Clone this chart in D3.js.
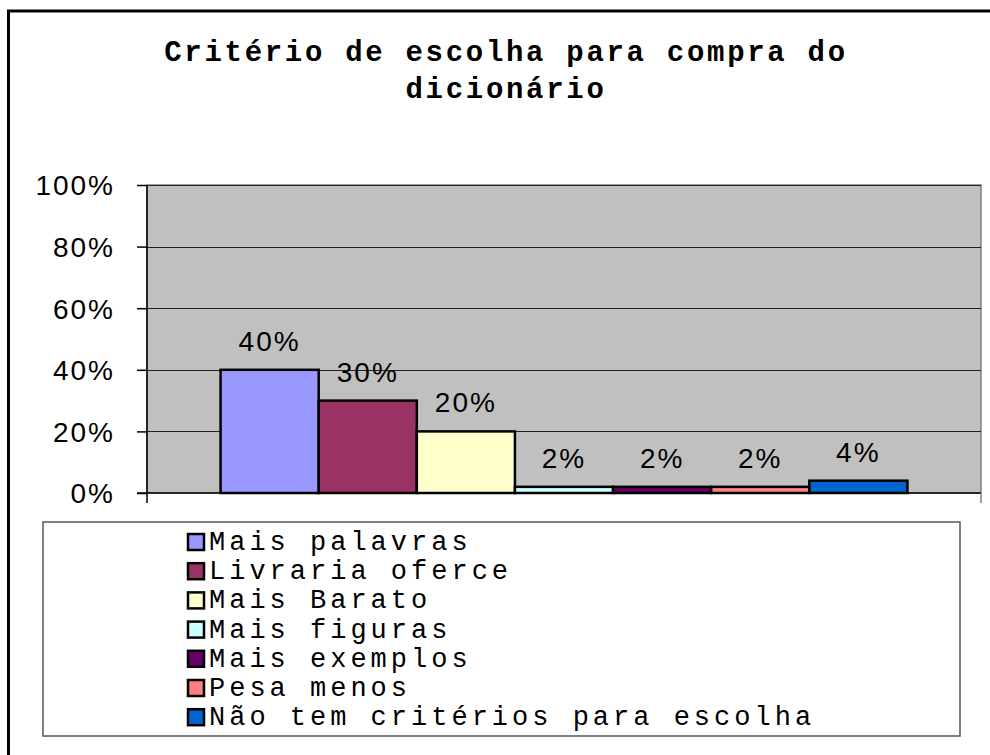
<!DOCTYPE html>
<html>
<head>
    <meta charset="utf-8" />
    <title>Critério de escolha para compra do dicionário</title>
    <style>
        body {
            margin: 0;
            background: #fff;
        }

        .title {
            font-family: "Liberation Mono", "Courier New", monospace;
            font-weight: bold;
            font-size: 29px;
            letter-spacing: 2.7px;
            text-anchor: middle;
        }

        .tick-label, .bar-label {
            font-family: "Liberation Sans", Arial, sans-serif;
            font-size: 28px;
            letter-spacing: 2px;
        }

        .legend-label {
            font-family: "Liberation Mono", "Courier New", monospace;
            font-size: 27px;
            letter-spacing: 4px;
        }
    </style>
</head>
<body>
    <script src="https://d3js.org/d3.v7.min.js"></script>
    <script>
        // dados
        let categories = ['Mais palavras', 'Livraria oferce', 'Mais Barato', 'Mais figuras',
                          'Mais exemplos', 'Pesa menos', 'Não tem critérios para escolha']
        let values = [40, 30, 20, 2, 2, 2, 4]
        let colors = ['#9999FF', '#993366', '#FFFFCC', '#CCFFFF', '#660066', '#FF8080', '#0066CC']
        let yTicks = [0, 20, 40, 60, 80, 100]
        let titleLines = ['Critério de escolha para compra do', 'dicionário']

        let width = 990,
            height = 755

        let plot = { left: 147, right: 981, top: 185, bottom: 493 }

        let svg = d3.select('body')
                    .append('svg')
                    .attr('width', width)
                    .attr('height', height)

        // moldura externa
        svg.append('rect')
            .attr('x', 8.5)
            .attr('y', 11)
            .attr('width', 1000)
            .attr('height', 800)
            .attr('fill', 'none')
            .attr('stroke', '#000')
            .attr('stroke-width', 3)

        // título
        svg.append('g')
            .selectAll('text')
            .data(titleLines)
            .enter()
                .append('text')
                .classed('title', true)
                .attr('x', 506)
                .attr('y', function (d, i) { return 61 + i * 37 })
                .text(function (d) { return d })

        let x = d3.scaleBand()
                    .domain(categories)
                    .range([plot.left, plot.right])
                    .paddingInner(0)
                    .paddingOuter(0.75)

        let y = d3.scaleLinear()
                    .domain([0, 100])
                    .range([plot.bottom, plot.top])

        // área de plotagem
        svg.append('rect')
            .attr('x', plot.left)
            .attr('y', plot.top)
            .attr('width', plot.right - plot.left)
            .attr('height', plot.bottom - plot.top)
            .attr('fill', '#C0C0C0')
            .attr('stroke', '#808080')
            .attr('stroke-width', 1.5)

        // linhas de grade
        svg.append('g')
            .selectAll('line')
            .data(yTicks.filter(function (d) { return d > 0 }))
            .enter()
                .append('line')
                .attr('x1', plot.left)
                .attr('x2', plot.right)
                .attr('y1', function (d) { return Math.round(y(d)) + 0.5 })
                .attr('y2', function (d) { return Math.round(y(d)) + 0.5 })
                .attr('stroke', '#222')
                .attr('stroke-width', 1)

        // eixo Y
        let yAxis = svg.append('g')
                        .attr('transform', `translate(${plot.left}, 0)`)
                        .call(d3.axisLeft(y)
                                .tickValues(yTicks)
                                .tickFormat(function (d) { return d + '%' })
                                .tickSize(10)
                                .tickPadding(22))

        yAxis.select('.domain').attr('stroke', '#000').attr('stroke-width', 1.5)
            .attr('d', `M0,${plot.top}V${plot.bottom + 10}`)
        yAxis.selectAll('.tick line').attr('stroke', '#000').attr('stroke-width', 1.5)
        yAxis.selectAll('.tick text')
            .attr('class', 'tick-label')
            .attr('fill', '#000')
            .attr('dy', '0.35em')

        // barras
        svg.append('g')
            .selectAll('rect')
            .data(values)
            .enter()
                .append('rect')
                .attr('x', function (d, i) { return x(categories[i]) })
                .attr('y', function (d) { return y(d) })
                .attr('width', x.bandwidth())
                .attr('height', function (d) { return y(0) - y(d) })
                .attr('fill', function (d, i) { return colors[i] })
                .attr('stroke', '#000')
                .attr('stroke-width', 2.5)

        // eixo X (linha e marcas)
        svg.append('line')
            .attr('x1', plot.left - 10)
            .attr('x2', plot.right)
            .attr('y1', plot.bottom)
            .attr('y2', plot.bottom)
            .attr('stroke', '#000')
            .attr('stroke-width', 1.5)

        svg.append('line')
            .attr('x1', plot.right)
            .attr('x2', plot.right)
            .attr('y1', plot.bottom)
            .attr('y2', plot.bottom + 10)
            .attr('stroke', '#808080')
            .attr('stroke-width', 1.5)

        // rótulos de dados
        svg.append('g')
            .selectAll('text')
            .data(values)
            .enter()
                .append('text')
                .classed('bar-label', true)
                .attr('text-anchor', 'middle')
                .attr('x', function (d, i) { return x(categories[i]) + x.bandwidth() / 2 })
                .attr('y', function (d) { return y(d) - 19 })
                .text(function (d) { return d + '%' })

        // legenda
        svg.append('rect')
            .attr('x', 43)
            .attr('y', 522)
            .attr('width', 917)
            .attr('height', 214)
            .attr('fill', '#fff')
            .attr('stroke', '#555')
            .attr('stroke-width', 1.5)

        let legend = svg.append('g')
                        .selectAll('g')
                        .data(categories)
                        .enter()
                            .append('g')
                            .attr('transform', function (d, i) {
                                return `translate(187, ${550 + i * 29.2})`
                            })

        legend.append('rect')
            .attr('x', 1)
            .attr('y', -16)
            .attr('width', 16)
            .attr('height', 16)
            .attr('fill', function (d, i) { return colors[i] })
            .attr('stroke', '#000')
            .attr('stroke-width', 2.5)

        legend.append('text')
            .classed('legend-label', true)
            .attr('x', 22)
            .attr('y', 0)
            .text(function (d) { return d })
    </script>
</body>
</html>
